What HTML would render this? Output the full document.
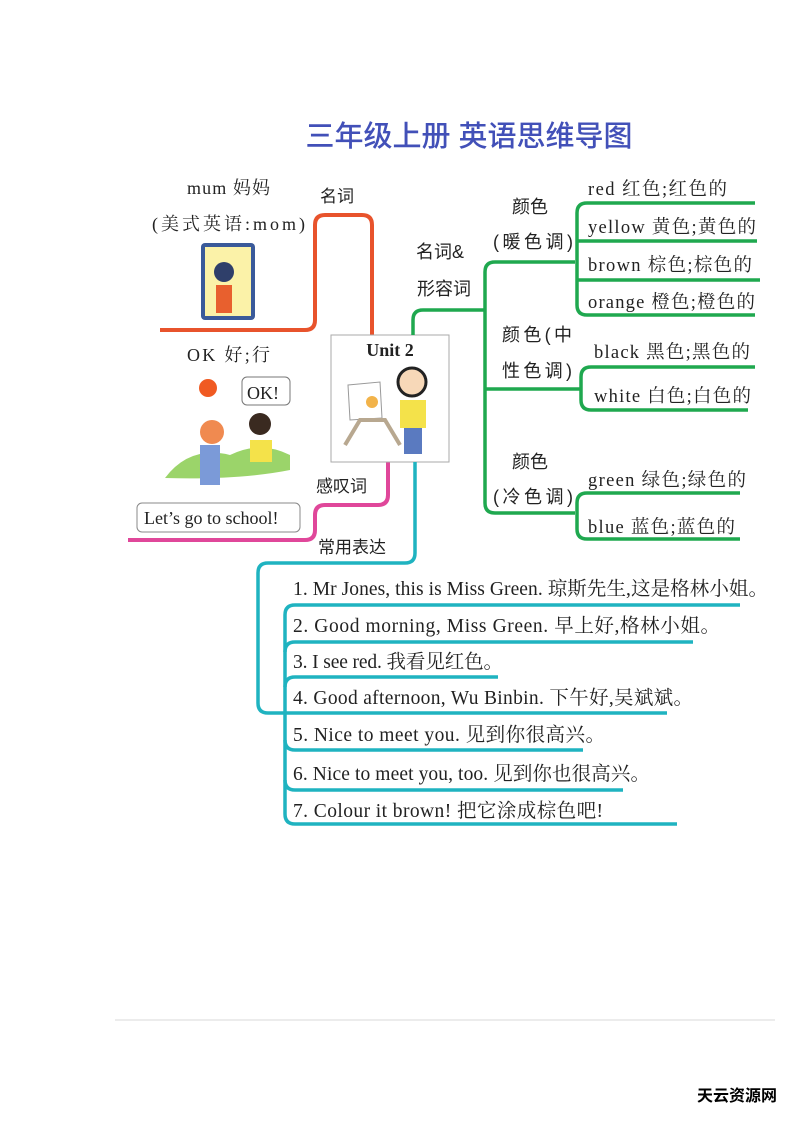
<!DOCTYPE html>
<html><head><meta charset="utf-8"><style>
html,body{margin:0;padding:0;background:#fff;}
svg{display:block;}
text{font-family:"Liberation Serif","Noto Serif CJK SC","Noto Sans CJK SC",serif;fill:#222;}
.cn{font-family:"Liberation Sans","Noto Sans CJK SC",sans-serif;}
</style></head><body>
<svg width="793" height="1121" viewBox="0 0 793 1121" xmlns="http://www.w3.org/2000/svg">
<text x="469" y="146" text-anchor="middle" class="cn" style="font-size:29px;fill:#4250b8;font-weight:500">三年级上册 英语思维导图</text>

<path d="M372 335 V225 Q372 215 362 215 H325 Q315 215 315 225 V320 Q315 330 305 330 H160" fill="none" stroke="#e8532c" stroke-width="4"/>
<text x="320" y="202" class="cn" style="font-size:17px">名词</text>
<text x="187" y="194" style="font-size:18px" textLength="83" lengthAdjust="spacing">mum 妈妈</text>
<text x="152" y="230" style="font-size:18px" textLength="153" lengthAdjust="spacing">(美式英语:mom)</text>
<rect x="201" y="243" width="54" height="77" rx="4" fill="#3a5a9a"/>
<rect x="205" y="247" width="46" height="69" fill="#fbf2a8"/>
<circle cx="224" cy="272" r="10" fill="#2f3f6a"/>
<rect x="216" y="285" width="16" height="28" fill="#e8602e"/>

<text x="187" y="361" style="font-size:18px" textLength="83" lengthAdjust="spacing">OK 好;行</text>
<circle cx="208" cy="388" r="9" fill="#f05a22"/>
<rect x="242" y="377" width="48" height="28" rx="5" fill="#fff" stroke="#777"/>
<text x="247" y="399" style="font-size:18px">OK!</text>
<path d="M165 478 Q190 445 230 455 Q260 440 290 455 L290 470 Q240 480 165 478Z" fill="#9bd46a"/>
<circle cx="212" cy="432" r="12" fill="#f08a50"/>
<rect x="200" y="445" width="20" height="40" fill="#7b9ad8"/>
<circle cx="260" cy="424" r="11" fill="#3a2a20"/>
<rect x="250" y="440" width="22" height="22" fill="#f4e24a"/>
<rect x="137" y="503" width="163" height="29" rx="5" fill="#fff" stroke="#888"/>
<text x="144" y="524" style="font-size:18px">Let’s go to school!</text>

<path d="M388 462 V495 Q388 505 378 505 H325 Q315 505 315 515 V530 Q315 540 305 540 H128" fill="none" stroke="#e0479a" stroke-width="4"/>
<text x="316" y="492" class="cn" style="font-size:17px">感叹词</text>
<text x="318" y="553" class="cn" style="font-size:17px">常用表达</text>

<rect x="331" y="335" width="118" height="127" fill="#fff" stroke="#aaa"/>
<text x="390" y="356" text-anchor="middle" style="font-size:18px;font-weight:bold">Unit 2</text>
<polygon points="348,385 380,382 382,418 350,420" fill="#fff" stroke="#999"/>
<circle cx="372" cy="402" r="6" fill="#f2b34a"/>
<path d="M345 445 L360 420 L385 420 L400 445" fill="none" stroke="#b8a890" stroke-width="4"/>
<circle cx="412" cy="382" r="14" fill="#f7d8b8" stroke="#222" stroke-width="3"/>
<rect x="400" y="400" width="26" height="28" fill="#f4e24a"/>
<rect x="404" y="428" width="18" height="26" fill="#5a7ac0"/>

<g fill="none" stroke="#1fa84f" stroke-width="3.5">
<path d="M413 335 V320 Q413 310 423 310 H485"/>
<path d="M575 262 H495 Q485 262 485 272 V503 Q485 513 495 513 H575"/>
<path d="M485 389 H581"/>
<path d="M755 203 H587 Q577 203 577 213 V305 Q577 315 587 315 H755"/>
<path d="M577 241 H757"/>
<path d="M577 280 H760"/>
<path d="M755 367 H591 Q581 367 581 377 V400 Q581 410 591 410 H748"/>
<path d="M740 493 H587 Q577 493 577 503 V529 Q577 539 587 539 H740"/>
</g>
<text x="416" y="258" class="cn" style="font-size:18px">名词&amp;</text>
<text x="417" y="295" class="cn" style="font-size:18px">形容词</text>
<text x="512" y="213" class="cn" style="font-size:18px">颜色</text>
<text x="493" y="248" class="cn" style="font-size:18px" textLength="80" lengthAdjust="spacing">(暖色调)</text>
<text x="502" y="341" class="cn" style="font-size:18px" textLength="70" lengthAdjust="spacing">颜色(中</text>
<text x="502" y="377" class="cn" style="font-size:18px" textLength="70" lengthAdjust="spacing">性色调)</text>
<text x="512" y="468" class="cn" style="font-size:18px">颜色</text>
<text x="493" y="503" class="cn" style="font-size:18px" textLength="80" lengthAdjust="spacing">(冷色调)</text>
<g style="font-size:18.5px">
<text x="588" y="195" textLength="139" lengthAdjust="spacing">red 红色;红色的</text>
<text x="588" y="233" textLength="168" lengthAdjust="spacing">yellow 黄色;黄色的</text>
<text x="588" y="271" textLength="164" lengthAdjust="spacing">brown 棕色;棕色的</text>
<text x="588" y="308" textLength="167" lengthAdjust="spacing">orange 橙色;橙色的</text>
<text x="594" y="358" textLength="156" lengthAdjust="spacing">black 黑色;黑色的</text>
<text x="594" y="402" textLength="157" lengthAdjust="spacing">white 白色;白色的</text>
<text x="588" y="486" textLength="158" lengthAdjust="spacing">green 绿色;绿色的</text>
<text x="588" y="533" textLength="147" lengthAdjust="spacing">blue 蓝色;蓝色的</text>
</g>

<g fill="none" stroke="#1fb3c0" stroke-width="3.5">
<path d="M415 462 V553 Q415 563 405 563 H268 Q258 563 258 573 V703 Q258 713 268 713 H667"/>
<path d="M740 605 H295 Q285 605 285 615 V814 Q285 824 295 824 H677"/>
<path d="M285 652 Q285 642 295 642 H693"/>
<path d="M285 687 Q285 677 295 677 H498"/>
<path d="M285 740 Q285 750 295 750 H583"/>
<path d="M285 780 Q285 790 295 790 H623"/>
</g>
<g style="font-size:19.5px">
<text x="293" y="595" textLength="475" lengthAdjust="spacing">1. Mr Jones, this is Miss Green. 琼斯先生,这是格林小姐。</text>
<text x="293" y="632" textLength="427" lengthAdjust="spacing">2. Good morning, Miss Green. 早上好,格林小姐。</text>
<text x="293" y="668" textLength="210" lengthAdjust="spacing">3. I see red. 我看见红色。</text>
<text x="293" y="704" textLength="400" lengthAdjust="spacing">4. Good afternoon, Wu Binbin. 下午好,吴斌斌。</text>
<text x="293" y="741" textLength="312" lengthAdjust="spacing">5. Nice to meet you. 见到你很高兴。</text>
<text x="293" y="780" textLength="357" lengthAdjust="spacing">6. Nice to meet you, too. 见到你也很高兴。</text>
<text x="293" y="817" textLength="310" lengthAdjust="spacing">7. Colour it brown! 把它涂成棕色吧!</text>
</g>

<line x1="115" y1="1020" x2="775" y2="1020" stroke="#e6e6e6" stroke-width="1.5"/>
<text x="697" y="1101" class="cn" style="font-size:16px;font-weight:bold;fill:#000">天云资源网</text>
</svg>
</body></html>
